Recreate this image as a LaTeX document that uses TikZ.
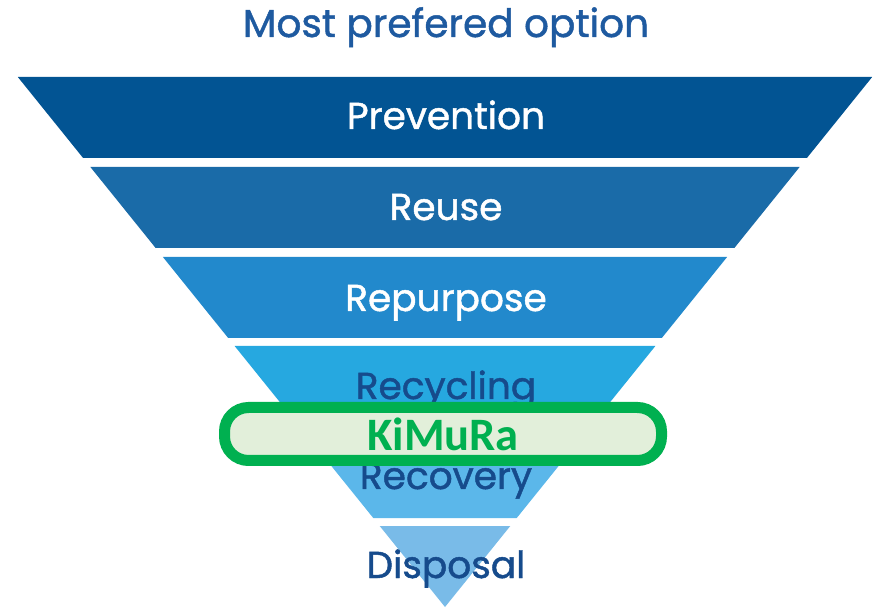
\documentclass[tikz,border=0pt]{standalone}
\usepackage{fontspec}
\setmainfont{Poppins}[FakeBold=1.2]
\newfontfamily\kfont{Carlito}
\definecolor{bandA}{RGB}{2,84,147}
\definecolor{bandB}{RGB}{26,107,168}
\definecolor{bandC}{RGB}{34,137,204}
\definecolor{bandD}{RGB}{38,168,224}
\definecolor{bandE}{RGB}{91,183,234}
\definecolor{bandF}{RGB}{121,187,232}
\definecolor{darktxt}{RGB}{22,75,140}
\definecolor{titletxt}{RGB}{30,90,160}
\definecolor{kgreen}{RGB}{0,176,80}
\definecolor{kfill}{RGB}{226,239,218}
\newcommand\trapband[3]{\fill[#3] ({445-0.806*(607-#1)},#1) -- ({445+0.806*(607-#1)},#1) -- ({445+0.806*(607-#2)},#2) -- ({445-0.806*(607-#2)},#2) -- cycle;}
\begin{document}
\begin{tikzpicture}[x=1pt,y=-1pt,
  lbl/.style={anchor=base, inner sep=0pt, font=\fontsize{37.5}{40}\selectfont},
  wlbl/.style={lbl, text=white},
  dlbl/.style={lbl, text=darktxt}]
\useasboundingbox (0,0) rectangle (884,609);
\fill[white] (0,0) rectangle (884,609);
\trapband{77}{158}{bandA}
\trapband{167}{248}{bandB}
\trapband{257}{338}{bandC}
\trapband{346}{434}{bandD}
\trapband{434}{518}{bandE}
\fill[bandF] ({445-0.806*(607-526)},526) -- ({445+0.806*(607-526)},526) -- (445,607) -- cycle;
\node[lbl, text=titletxt, font=\fontsize{39}{42}\selectfont] (title) at (446,37) {Most prefered option};
\node[wlbl] (prev) at (446,129) {Prevention};
\node[wlbl] (reuse) at (446,220) {Reuse};
\node[wlbl] (repurp) at (446,311) {Repurpose};
\node[dlbl] (recyc) at (446,399) {Recycling};
\node[dlbl] (recov) at (446,489) {Recovery};
\node[dlbl] (disp) at (446,578) {Disposal};
\node[draw=kgreen, fill=kfill, line width=11pt, rounded corners=24pt,
  minimum width=437pt, minimum height=53pt, text=kgreen,
  font=\kfont\bfseries\fontsize{46.5}{50}\selectfont] (kimura) at (443,434) {KiMuRa};
\end{tikzpicture}
\end{document}
